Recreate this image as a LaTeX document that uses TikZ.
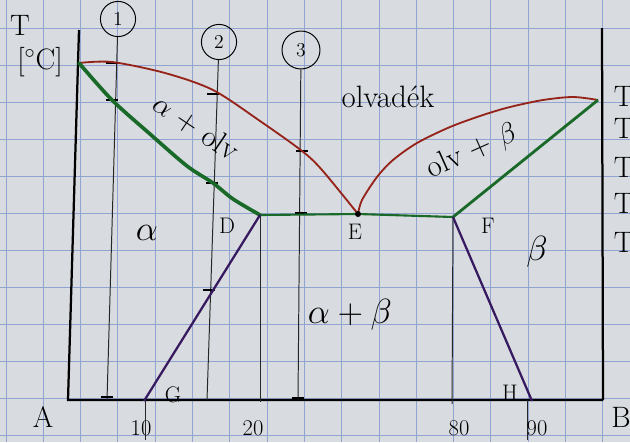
\documentclass[tikz,border=0pt]{standalone}
\usepackage{amsmath,amssymb}
\usepackage{xcolor}
\usetikzlibrary{positioning, calc}
\definecolor{paper}{RGB}{216,219,223}
\definecolor{gridblue}{RGB}{145,163,208}
\definecolor{liquidred}{RGB}{150,35,25}
\definecolor{solidgreen}{RGB}{25,105,40}
\definecolor{solvuspurple}{RGB}{55,25,95}

\begin{document}
\begin{tikzpicture}[x=0.025cm, y=-0.025cm,
    axis/.style={line width=1.6pt, black},
    guide/.style={line width=0.7pt, black!85},
    tickmark/.style={line width=1.1pt, black},
    lab/.style={font=\fontsize{16}{16}\selectfont},
    labbig/.style={font=\fontsize{21}{21}\selectfont},
    phase/.style={font=\fontsize{22}{22}\selectfont},
    numcirc/.style={draw, circle, line width=0.7pt, minimum size=25pt, inner sep=0pt, font=\fontsize{14}{14}\selectfont}]

% squared paper
\fill[paper] (0,0) rectangle (630,442);
\useasboundingbox (0,0) rectangle (630,442);
\foreach \gx in {0,...,16}
    \draw[gridblue, line width=0.6pt] ({6+37.3*\gx},0) -- ({6+37.3*\gx},442);
\foreach \gy in {0,...,11}
    \draw[gridblue, line width=0.6pt] (0,{28+37*\gy}) -- (630,{28+37*\gy});

% key points
\coordinate (A) at (68,400);
\coordinate (Atop) at (79,30);
\coordinate (B) at (603,400);
\coordinate (Btop) at (602,28);
\coordinate (TA) at (79,63);
\coordinate (TB) at (598,100);
\coordinate (D) at (260,215);
\coordinate (E) at (358,214);
\coordinate (F) at (453,217);
\coordinate (G) at (144,401);
\coordinate (H) at (532,401);

% axes
\draw[axis] (Atop) -- (A) -- (B);
\draw[axis] (Btop) -- (B);

% alloy lines 1, 2, 3
\node[numcirc] (n1) at (118,19) {1};
\node[numcirc] (n2) at (219,42) {2};
\node[numcirc, minimum size=27pt] (n3) at (301,50) {3};
\coordinate (g1) at (107,400);
\coordinate (g2) at (207,400);
\coordinate (g3) at (298,400);
\draw[guide] (n1) -- (g1);
\draw[guide] (n2) -- (g2);
\draw[guide] (n3) -- (g3);
\foreach \tx/\ty in {112/63, 112/100, 107/397, 213/94, 212/183, 209/290, 302/151, 301/213, 298/398}
    \draw[tickmark] ({\tx-6},\ty) -- ({\tx+6},\ty);

% verticals at 20 and 80, ticks at 10 and 90
\draw[guide] (D) -- (260,402);
\draw[guide] (F) -- (452,404);
\draw[guide] (145,400) -- (145,440);
\draw[guide] (527,400) -- (527,440);

% liquidus
\draw[liquidred, line width=1.3pt] plot[smooth] coordinates {
    (79,63) (112,62) (165,73) (213,90) (260,121) (302,151) (322,170) (358,214)};
\draw[liquidred, line width=1.3pt] plot[smooth] coordinates {
    (358,214) (362,200) (377,177) (393,160) (417,143) (450,127)
    (483,115) (510,107) (543,100) (573,97) (598,100)};

% solidus
\draw[solidgreen, line width=2.6pt, line cap=round] plot[smooth] coordinates {
    (79,63) (112,100) (150,134) (187,166) (213,183) (233,199) (260,215)};
\draw[solidgreen, line width=1.5pt] (D) -- (E) -- (F);
\draw[solidgreen, line width=2pt] (F) -- (TB);
\fill[black] (E) circle (3);

% solvus
\draw[solvuspurple, line width=1.6pt] (D) -- (G);
\draw[solvuspurple, line width=1.6pt] (F) -- (H);

% labels
\node[labbig] (tlab) at (20,25) {T};
\node[labbig] (unit) at (40,62) {[$^\circ$C]};
\node[phase, rotate=-34] (aol) at (196,127) {$\alpha$ + olv};
\node[phase] (melt) at (388,97) {olvadék};
\node[phase, rotate=24] (olb) at (472,152) {olv + $\beta$};
\node[font=\fontsize{30}{30}\selectfont] (alpha) at (147,233) {$\alpha$};
\node[font=\fontsize{40}{40}\selectfont] (beta) at (537,252) {$\beta$};
\node[font=\fontsize{26}{26}\selectfont] (ab) at (350,315) {$\alpha + \beta$};
\node[lab] (Dl) at (227,226) {D};
\node[lab] (El) at (355,232) {E};
\node[lab] (Fl) at (488,226) {F};
\node[lab] (Gl) at (173,395) {G};
\node[lab] (Hl) at (510,393) {H};
\node[labbig] (Al) at (43,417) {A};
\node[labbig] (Bl) at (621,417) {B};
\node[lab] (x10) at (141,428) {10};
\node[lab] (x20) at (253,428) {20};
\node[lab] (x80) at (459,428) {80};
\node[lab] (x90) at (537,428) {90};

% temperatures on the right (cut by the page edge)
\node[labbig, anchor=west] (tf) at (609,96) {T};
\node[labbig, anchor=west] (tl) at (609,131) {T$_\mathrm{L}$};
\node[labbig, anchor=west] (ts1) at (609,170) {T$_\mathrm{S}$};
\node[labbig, anchor=west] (ts2) at (609,206) {T$_\mathrm{S}$};
\node[labbig, anchor=west] (te) at (609,242) {T=};
\end{tikzpicture}
\end{document}
